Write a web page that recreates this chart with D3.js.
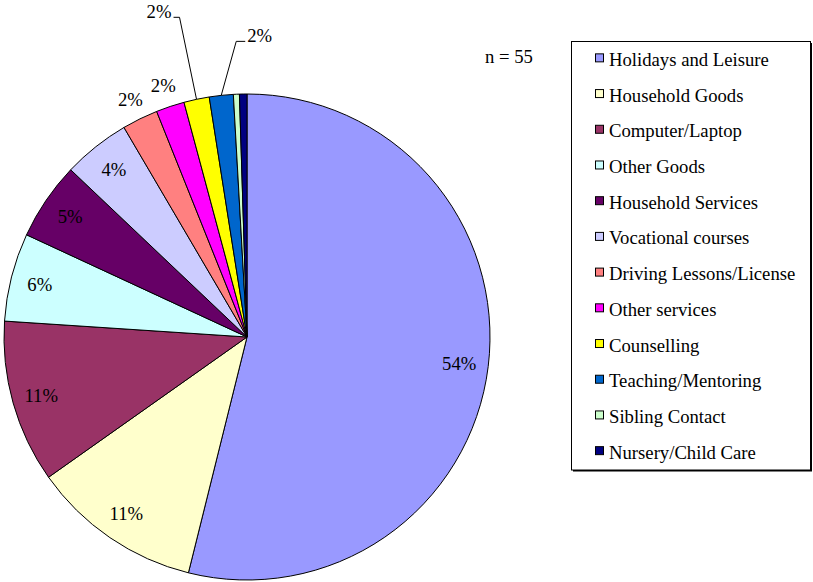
<!DOCTYPE html>
<html>
<head>
<meta charset="utf-8">
<script src="https://cdn.jsdelivr.net/npm/d3@7"></script>
<style>
  body { margin: 0; background: #fff; }
</style>
</head>
<body>
<div id="output"></div>
<script>
var w = 813;
var h = 582;

// data (share of spending, in %)
var categories = ['Holidays and Leisure', 'Household Goods', 'Computer/Laptop', 'Other Goods',
	'Household Services', 'Vocational courses', 'Driving Lessons/License', 'Other services',
	'Counselling', 'Teaching/Mentoring', 'Sibling Contact', 'Nursery/Child Care'];
var values = [54.2, 11.4, 10.9, 5.9, 5.2, 4.5, 2.4, 1.9, 1.7, 1.6, 0.4, 0.5];
var colors = ['#9999ff', '#ffffcc', '#993366', '#ccffff', '#660066', '#ccccff',
	'#ff8080', '#ff00ff', '#ffff00', '#0066cc', '#ccffcc', '#000080'];
var sampleLabel = 'n = 55';

var cx = 247, cy = 337, radius = 243;
var total = d3.sum(values);
var font = "'Liberation Serif', 'Times New Roman', Times, serif";
var fs = 18.7;

var svg = d3.select('#output').append('svg')
	.attr('width', w)
	.attr('height', h)
	.style('font-family', font);

var color = d3.scaleOrdinal().domain(categories).range(colors);

var pie = d3.pie().sort(null).value(function (d) { return d.value; });
var slices = pie(categories.map(function (c, i) { return { name: c, value: values[i] }; }));

var arc = d3.arc().innerRadius(0).outerRadius(radius);
var inside = d3.arc().innerRadius(radius * 0.88).outerRadius(radius * 0.88);
var outside = d3.arc().innerRadius(radius * 1.09).outerRadius(radius * 1.09);
var edge = d3.arc().innerRadius(radius).outerRadius(radius);

var g = svg.append('g').attr('transform', 'translate(' + cx + ',' + cy + ')');

g.selectAll('path')
	.data(slices)
	.enter()
	.append('path')
	.attr('d', arc)
	.attr('fill', function (d) { return color(d.data.name); })
	.attr('stroke', '#000')
	.attr('stroke-width', 1)
	.attr('stroke-linejoin', 'round');

function pct(d) { return Math.round(d.value / total * 100); }

// the two labels that were pushed up with leader lines
var leaders = {
	'Counselling': { bend: [-17, -82], run: -6, anchor: 'end' },
	'Teaching/Mentoring': { bend: [15, -54], run: 9, anchor: 'start' }
};

var labelled = slices.filter(function (d) { return pct(d) > 0; });

labelled.forEach(function (d) {
	var txt = pct(d) + '%';
	var lead = leaders[d.data.name];
	if (lead) {
		var p = edge.centroid(d);
		var b = [p[0] + lead.bend[0], p[1] + lead.bend[1]];
		var e = [b[0] + lead.run, b[1]];
		g.append('polyline')
			.attr('points', [p, b, e].map(function (q) { return q.join(','); }).join(' '))
			.attr('fill', 'none')
			.attr('stroke', '#000')
			.attr('stroke-width', 1);
		g.append('text')
			.text(txt)
			.attr('x', e[0] + (lead.anchor === 'end' ? -2 : 2))
			.attr('y', e[1])
			.attr('dy', '0.05em')
			.attr('text-anchor', lead.anchor)
			.attr('font-size', fs);
	} else {
		var c = (d.value / total >= 0.035) ? inside.centroid(d) : outside.centroid(d);
		g.append('text')
			.text(txt)
			.attr('x', c[0])
			.attr('y', c[1])
			.attr('dy', '0.35em')
			.attr('text-anchor', 'middle')
			.attr('font-size', fs);
	}
});

svg.append('text')
	.text(sampleLabel)
	.attr('x', 509)
	.attr('y', 63)
	.attr('text-anchor', 'middle')
	.attr('font-size', fs);

// legend
var lx = 571.5, ly = 41.5, lw = 239, lh = 428.5;
var row = d3.scaleBand().domain(categories).range([ly, ly + lh]);

svg.append('rect')
	.attr('x', lx + 1.5)
	.attr('y', ly + 1.5)
	.attr('width', lw)
	.attr('height', lh)
	.attr('fill', '#000');
svg.append('rect')
	.attr('x', lx)
	.attr('y', ly)
	.attr('width', lw)
	.attr('height', lh)
	.attr('fill', '#fff')
	.attr('stroke', '#000')
	.attr('stroke-width', 1);

var items = svg.selectAll('g.item')
	.data(categories)
	.enter()
	.append('g')
	.attr('class', 'item')
	.attr('transform', function (d) { return 'translate(0,' + (row(d) + row.bandwidth() / 2) + ')'; });

items.append('rect')
	.attr('x', 595.5)
	.attr('y', -5.5)
	.attr('width', 8)
	.attr('height', 8)
	.attr('fill', function (d) { return color(d); })
	.attr('stroke', '#000')
	.attr('stroke-width', 1);

items.append('text')
	.text(function (d) { return d; })
	.attr('x', 609)
	.attr('y', 0)
	.attr('dy', '0.35em')
	.attr('font-size', fs);
</script>
</body>
</html>
